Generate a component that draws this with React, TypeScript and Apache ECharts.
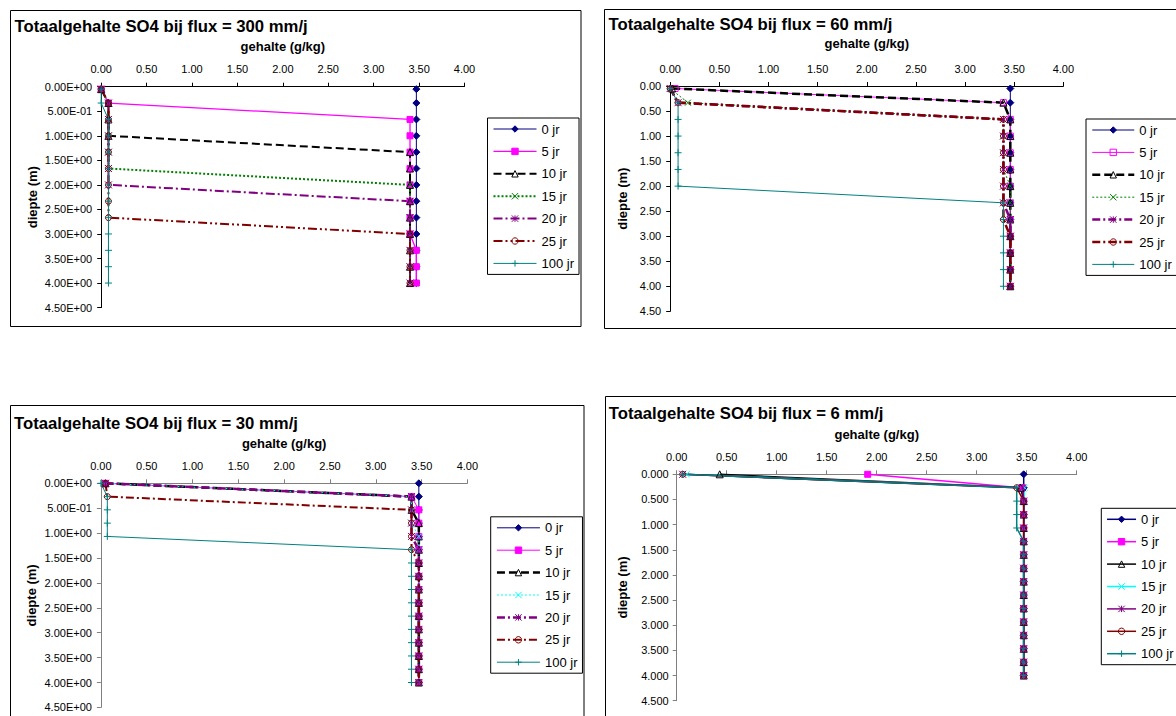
import { useEffect, useRef } from "react";
import * as echarts from "echarts";

// Legend labels: time since start of leaching (years)
const yearLabels = ["0 jr", "5 jr", "10 jr", "15 jr", "20 jr", "25 jr", "100 jr"];

// Sample depths (m): 13 layers for the high-flux runs, 16 layers for the low-flux runs
const depthCoarse = [0.05, 0.333, 0.667, 1.0, 1.333, 1.667, 2.0, 2.333, 2.667, 3.0, 3.333, 3.667, 4.0];
const depthFine = [0, 0.267, 0.533, 0.8, 1.067, 1.333, 1.6, 1.867, 2.133, 2.4, 2.667, 2.933, 3.2, 3.467, 3.733, 4.0];

// Total SO4 content (g/kg) per year, flux = 300 mm/j
const flux300: number[][] = [
  [3.47, 3.47, 3.47, 3.47, 3.47, 3.47, 3.47, 3.47, 3.47, 3.47, 3.47, 3.47, 3.47],
  [0.0, 0.08, 3.4, 3.4, 3.4, 3.4, 3.4, 3.4, 3.4, 3.4, 3.47, 3.47, 3.47],
  [0.0, 0.08, 0.08, 0.08, 3.4, 3.4, 3.4, 3.4, 3.4, 3.4, 3.4, 3.4, 3.4],
  [0.0, 0.08, 0.08, 0.08, 0.08, 0.08, 3.4, 3.4, 3.4, 3.4, 3.4, 3.4, 3.4],
  [0.0, 0.08, 0.08, 0.08, 0.08, 0.08, 0.08, 3.4, 3.4, 3.4, 3.4, 3.4, 3.4],
  [0.0, 0.08, 0.08, 0.08, 0.08, 0.08, 0.08, 0.08, 0.08, 3.4, 3.4, 3.4, 3.4],
  [0.0, 0.0, 0.08, 0.08, 0.08, 0.08, 0.08, 0.08, 0.08, 0.08, 0.08, 0.08, 0.08],
];

// flux = 60 mm/j
const flux60: number[][] = [
  [3.46, 3.46, 3.46, 3.46, 3.46, 3.46, 3.46, 3.46, 3.46, 3.46, 3.46, 3.46, 3.46],
  [0.05, 3.39, 3.46, 3.46, 3.46, 3.46, 3.46, 3.46, 3.46, 3.46, 3.46, 3.46, 3.46],
  [0.02, 3.39, 3.46, 3.46, 3.46, 3.46, 3.46, 3.46, 3.46, 3.46, 3.46, 3.46, 3.46],
  [0.0, 0.18, 3.39, 3.39, 3.39, 3.39, 3.46, 3.46, 3.46, 3.46, 3.46, 3.46, 3.46],
  [0.0, 0.08, 3.39, 3.39, 3.39, 3.39, 3.39, 3.39, 3.46, 3.46, 3.46, 3.46, 3.46],
  [0.0, 0.08, 3.39, 3.39, 3.39, 3.39, 3.39, 3.39, 3.39, 3.46, 3.46, 3.46, 3.46],
  [0.0, 0.08, 0.08, 0.08, 0.08, 0.08, 0.08, 3.39, 3.39, 3.39, 3.39, 3.39, 3.39],
];

// flux = 30 mm/j
const flux30: number[][] = [
  [3.47, 3.47, 3.47, 3.47, 3.47, 3.47, 3.47, 3.47, 3.47, 3.47, 3.47, 3.47, 3.47, 3.47, 3.47, 3.47],
  [0.05, 3.39, 3.47, 3.47, 3.47, 3.47, 3.47, 3.47, 3.47, 3.47, 3.47, 3.47, 3.47, 3.47, 3.47, 3.47],
  [0.05, 3.39, 3.39, 3.47, 3.47, 3.47, 3.47, 3.47, 3.47, 3.47, 3.47, 3.47, 3.47, 3.47, 3.47, 3.47],
  [0.05, 3.39, 3.39, 3.39, 3.47, 3.47, 3.47, 3.47, 3.47, 3.47, 3.47, 3.47, 3.47, 3.47, 3.47, 3.47],
  [0.05, 3.39, 3.39, 3.39, 3.39, 3.47, 3.47, 3.47, 3.47, 3.47, 3.47, 3.47, 3.47, 3.47, 3.47, 3.47],
  [0.05, 0.07, 3.39, 3.39, 3.39, 3.39, 3.47, 3.47, 3.47, 3.47, 3.47, 3.47, 3.47, 3.47, 3.47, 3.47],
  [0.0, 0.07, 0.07, 0.07, 0.07, 3.39, 3.39, 3.39, 3.39, 3.39, 3.39, 3.39, 3.39, 3.39, 3.39, 3.39],
];

// flux = 6 mm/j
const flux6: number[][] = [
  [3.47, 3.47, 3.47, 3.47, 3.47, 3.47, 3.47, 3.47, 3.47, 3.47, 3.47, 3.47, 3.47, 3.47, 3.47, 3.47],
  [1.91, 3.45, 3.47, 3.47, 3.47, 3.47, 3.47, 3.47, 3.47, 3.47, 3.47, 3.47, 3.47, 3.47, 3.47, 3.47],
  [0.43, 3.44, 3.47, 3.47, 3.47, 3.47, 3.47, 3.47, 3.47, 3.47, 3.47, 3.47, 3.47, 3.47, 3.47, 3.47],
  [0.1, 3.48, 3.47, 3.47, 3.47, 3.47, 3.47, 3.47, 3.47, 3.47, 3.47, 3.47, 3.47, 3.47, 3.47, 3.47],
  [0.06, 3.46, 3.47, 3.47, 3.47, 3.47, 3.47, 3.47, 3.47, 3.47, 3.47, 3.47, 3.47, 3.47, 3.47, 3.47],
  [0.06, 3.4, 3.47, 3.47, 3.47, 3.47, 3.47, 3.47, 3.47, 3.47, 3.47, 3.47, 3.47, 3.47, 3.47, 3.47],
  [0.06, 3.4, 3.4, 3.4, 3.4, 3.47, 3.47, 3.47, 3.47, 3.47, 3.47, 3.47, 3.47, 3.47, 3.47, 3.47],
];

const FONT = 'Arial, "Liberation Sans", Helvetica, sans-serif';

const SYM_X = "path://M0,0L10,10M10,0L0,10";
const SYM_STAR = "path://M5,0L5,10M0,0L10,10M10,0L0,10";
const SYM_PLUS = "path://M5,0L5,10M0,5L10,5";

const NAVY = "#000080";
const MAGENTA = "#ff00ff";
const BLACK = "#000000";
const GREEN = "#008000";
const CYAN = "#00ffff";
const PURPLE = "#800080";
const DARKRED = "#800000";
const TEAL = "#008080";

type LineLook = {
  color: string;
  width: number;
  dash: "solid" | number[];
  symbol: string;
  size: number;
  hollow?: boolean;
};

const look = (color: string, width: number, dash: "solid" | number[], symbol: string, size: number, hollow = false): LineLook => ({
  color, width, dash, symbol, size, hollow,
});

// Spreadsheet-style scientific notation, e.g. 5.00E-01
function sci(v: number): string {
  if (v === 0) return "0.00E+00";
  const exp = Math.floor(Math.log10(Math.abs(v)) + 1e-9);
  const mant = v / Math.pow(10, exp);
  const sign = exp < 0 ? "-" : "+";
  const e = Math.abs(exp);
  return mant.toFixed(2) + "E" + sign + (e < 10 ? "0" + e : String(e));
}

const panels = [
  {
    key: "300 mm/j",
    title: "Totaalgehalte SO4 bij flux = 300 mm/j",
    values: flux300,
    depth: depthCoarse,
    grid: { left: 101.2, top: 86.7, width: 363.3, height: 220.9 },
    frame: { x: 10.5, y: 10.5, width: 570.5, height: 316 },
    titlePos: [14.5, 26],
    yFmt: sci,
    yLabelMargin: 9,
    yNameGap: 62,
    xNameGap: 34,
    axisColor: "#000000",
    legend: { left: 487.5, top: 118, itemWidth: 43 },
    looks: [
      look(NAVY, 1, "solid", "diamond", 7),
      look(MAGENTA, 1.3, "solid", "rect", 6),
      look(BLACK, 2, [8, 4], "triangle", 7, true),
      look(GREEN, 2, [2, 2], SYM_X, 6),
      look(PURPLE, 2, [9, 3, 2, 3], SYM_STAR, 7),
      look(DARKRED, 2, [9, 3, 2, 3, 2, 3], "circle", 6, true),
      look(TEAL, 1, "solid", SYM_PLUS, 7),
    ],
  },
  {
    key: "60 mm/j",
    title: "Totaalgehalte SO4 bij flux = 60 mm/j",
    values: flux60,
    depth: depthCoarse,
    grid: { left: 670.2, top: 86, width: 393.2, height: 225.3 },
    frame: { x: 604.5, y: 9.5, width: 580, height: 319 },
    titlePos: [608.5, 24],
    yFmt: (v: number) => v.toFixed(2),
    yLabelMargin: 9,
    yNameGap: 41,
    xNameGap: 36,
    axisColor: "#000000",
    legend: { left: 1086, top: 119, itemWidth: 42 },
    looks: [
      look(NAVY, 1, "solid", "diamond", 7),
      look(MAGENTA, 1, "solid", "rect", 6, true),
      look(BLACK, 2.5, [8, 4], "triangle", 7, true),
      look(GREEN, 1, [2, 2], SYM_X, 6),
      look(PURPLE, 2.5, [8, 3, 2, 3], SYM_STAR, 7),
      look(DARKRED, 2.5, [8, 3, 2, 3], "circle", 6, true),
      look(TEAL, 1, "solid", SYM_PLUS, 7),
    ],
  },
  {
    key: "30 mm/j",
    title: "Totaalgehalte SO4 bij flux = 30 mm/j",
    values: flux30,
    depth: depthFine,
    grid: { left: 100.9, top: 483.3, width: 366.5, height: 224.1 },
    frame: { x: 10.5, y: 405.5, width: 573.5, height: 330 },
    titlePos: [14, 423],
    yFmt: sci,
    yLabelMargin: 9,
    yNameGap: 63,
    xNameGap: 33,
    axisColor: "#808080",
    legend: { left: 490.7, top: 516.8, itemWidth: 43 },
    looks: [
      look(NAVY, 1, "solid", "diamond", 7),
      look(MAGENTA, 1, "solid", "rect", 6),
      look(BLACK, 2.5, [8, 4], "triangle", 7, true),
      look(CYAN, 1, [2, 2], SYM_X, 6),
      look(PURPLE, 2.5, [8, 3, 2, 3], SYM_STAR, 7),
      look(DARKRED, 2, [8, 3, 2, 3], "circle", 6, true),
      look(TEAL, 1, "solid", SYM_PLUS, 7),
    ],
  },
  {
    key: "6 mm/j",
    title: "Totaalgehalte SO4 bij flux = 6 mm/j",
    values: flux6,
    depth: depthFine,
    grid: { left: 676.7, top: 474.3, width: 400, height: 226.4 },
    frame: { x: 605.5, y: 396.5, width: 580, height: 330 },
    titlePos: [608.8, 413.4],
    yFmt: (v: number) => v.toFixed(3),
    yLabelMargin: 8,
    yNameGap: 48,
    xNameGap: 33,
    axisColor: "#808080",
    legend: { left: 1101.3, top: 508.3, itemWidth: 29 },
    looks: [
      look(NAVY, 1.5, "solid", "diamond", 7),
      look(MAGENTA, 1.5, "solid", "rect", 6),
      look(BLACK, 1.5, "solid", "triangle", 7, true),
      look(CYAN, 1.5, "solid", SYM_X, 6),
      look(PURPLE, 1.5, "solid", SYM_STAR, 7),
      look(DARKRED, 1.5, "solid", "circle", 6, true),
      look(TEAL, 1.5, "solid", SYM_PLUS, 7),
    ],
  },
];

const SEP = " · ";
const CLEAR = "rgba(255,255,255,0)";

function buildOption() {
  const grid = panels.map((p) => ({ ...p.grid, containLabel: false }));

  const xAxis = panels.map((p, i) => ({
    gridIndex: i,
    type: "value",
    position: "top",
    min: 0,
    max: 4,
    interval: 0.5,
    name: "gehalte (g/kg)",
    nameLocation: "middle",
    nameGap: p.xNameGap,
    nameTextStyle: { fontWeight: "bold", fontSize: 13, color: "#000", fontFamily: FONT },
    axisLine: { onZero: false, lineStyle: { color: p.axisColor, width: 1 } },
    axisTick: { length: 4, lineStyle: { color: p.axisColor, width: 1 } },
    axisLabel: {
      formatter: (v: number) => v.toFixed(2),
      fontSize: 11,
      color: "#000",
      margin: 12,
      fontFamily: FONT,
    },
    splitLine: { show: false },
  }));

  const yAxis = panels.map((p, i) => ({
    gridIndex: i,
    type: "value",
    inverse: true,
    min: 0,
    max: 4.5,
    interval: 0.5,
    name: "diepte (m)",
    nameLocation: "middle",
    nameGap: p.yNameGap,
    nameTextStyle: { fontWeight: "bold", fontSize: 13, color: "#000", fontFamily: FONT },
    axisLine: { onZero: false, lineStyle: { color: p.axisColor, width: 1 } },
    axisTick: { length: 4, lineStyle: { color: p.axisColor, width: 1 } },
    axisLabel: {
      formatter: p.yFmt,
      fontSize: 11,
      color: "#000",
      margin: p.yLabelMargin,
      fontFamily: FONT,
    },
    splitLine: { show: false },
  }));

  const series: any[] = [];
  panels.forEach((p, i) => {
    p.values.forEach((vals, j) => {
      const s = p.looks[j];
      series.push({
        type: "line",
        name: p.key + SEP + yearLabels[j],
        xAxisIndex: i,
        yAxisIndex: i,
        data: p.depth.map((d, k) => [vals[k], d]),
        symbol: s.symbol,
        symbolSize: s.size,
        showAllSymbol: true,
        clip: false,
        z: 2,
        lineStyle: { color: s.color, width: s.width, type: s.dash },
        itemStyle: {
          color: s.hollow ? CLEAR : s.color,
          borderColor: s.color,
          borderWidth: 1,
        },
        emphasis: { disabled: true },
        silent: true,
      });
    });
  });

  const legend = panels.map((p) => ({
    orient: "vertical",
    left: p.legend.left,
    top: p.legend.top,
    itemWidth: p.legend.itemWidth,
    itemHeight: 8,
    itemGap: 8.4,
    padding: [4, 5, 4, 5],
    borderColor: "#000",
    borderWidth: 1,
    backgroundColor: "#ffffff",
    selectedMode: false,
    textStyle: { fontSize: 13, color: "#000", fontFamily: FONT, lineHeight: 14 },
    formatter: (name: string) => name.split(SEP)[1],
    data: yearLabels.map((lab, j) => ({
      name: p.key + SEP + lab,
      itemStyle: { borderWidth: 1 },
      lineStyle: { width: p.looks[j].width, type: p.looks[j].dash },
    })),
  }));

  const graphic: any[] = [];
  panels.forEach((p) => {
    graphic.push({
      type: "rect",
      shape: { ...p.frame },
      style: { fill: "none", stroke: "#000", lineWidth: 1 },
      z: 0,
      silent: true,
    });
    graphic.push({
      type: "text",
      x: p.titlePos[0],
      y: p.titlePos[1],
      style: {
        text: p.title,
        fill: "#000",
        font: `bold 16.7px ${FONT}`,
        textVerticalAlign: "middle",
        verticalAlign: "middle",
      },
      silent: true,
    });
  });

  return {
    animation: false,
    backgroundColor: "#ffffff",
    grid,
    xAxis,
    yAxis,
    series,
    legend,
    graphic,
  };
}

export default function App() {
  const ref = useRef<HTMLDivElement>(null);
  useEffect(() => {
    if (!ref.current) return;
    const chart = echarts.init(ref.current, null, { renderer: "svg" });
    chart.setOption(buildOption() as any);
    return () => chart.dispose();
  }, []);
  return (
    <div
      ref={ref}
      style={{ position: "fixed", left: 0, top: 0, width: 1176, height: 716, background: "#fff" }}
    />
  );
}
